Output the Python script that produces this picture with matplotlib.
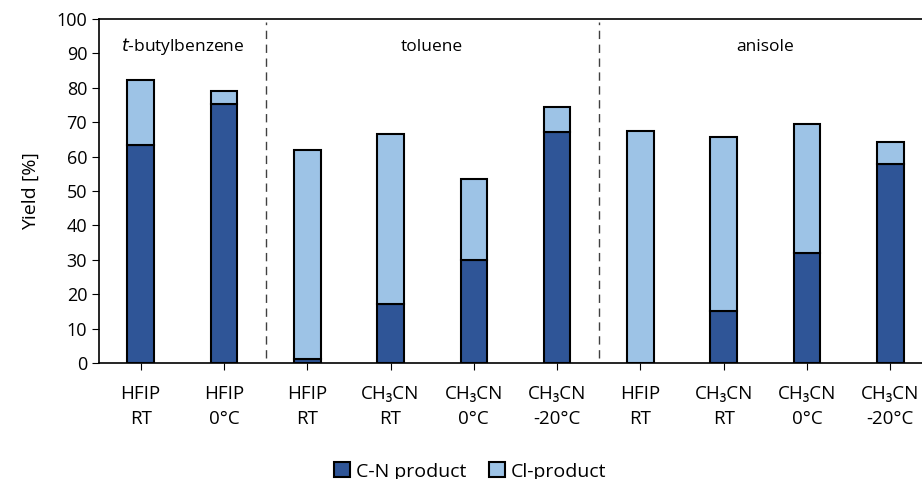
import numpy as np
import matplotlib.pyplot as plt

plt.rcParams['font.family'] = ['Open Sans', 'DejaVu Sans']

# data
labels = ['HFIP\nRT', 'HFIP\n0°C', 'HFIP\nRT', 'CH₃CN\nRT', 'CH₃CN\n0°C',
          'CH₃CN\n-20°C', 'HFIP\nRT', 'CH₃CN\nRT', 'CH₃CN\n0°C', 'CH₃CN\n-20°C']
cn_product = [63.4, 75.4, 1.3, 17.2, 29.9, 67.2, 0.0, 15.1, 31.9, 57.9]
total_yield = [82.2, 79.1, 62.0, 66.6, 53.5, 74.5, 67.5, 65.8, 69.4, 64.2]
cl_product = [t - c for t, c in zip(total_yield, cn_product)]
groups = ['$\\it{t}$-butylbenzene', 'toluene', 'anisole']
group_span = [(0, 1), (2, 5), (6, 9)]

dark = '#2F5597'
light = '#9DC3E6'

fig = plt.figure(figsize=(9.22, 4.79), dpi=100)
ax = fig.add_axes([99/922, 116/479, 833/922, 344/479])

x = np.arange(len(labels))
ax.bar(x, cn_product, width=0.32, color=dark, edgecolor='black', linewidth=1.5,
       label='C-N product', zorder=3)
ax.bar(x, cl_product, width=0.32, bottom=cn_product, color=light, edgecolor='black',
       linewidth=1.5, label='Cl-product', zorder=3)

ax.set_xlim(-0.5, len(labels) - 0.5)
ax.set_ylim(0, 100)
ax.set_yticks(np.arange(0, 101, 10))
ax.set_xticks(x)
ax.set_xticklabels(labels, linespacing=1.5)
ax.tick_params(axis='x', length=5, pad=11, labelsize=13.5)
ax.tick_params(axis='y', length=5, labelsize=13)
ax.set_ylabel('Yield [%]', fontsize=14, labelpad=12)

for s in ['left', 'bottom', 'top']:
    ax.spines[s].set_color('black')
    ax.spines[s].set_linewidth(1.2)

# group separators and names
for (a, b), (c, d) in zip(group_span[:-1], group_span[1:]):
    ax.axvline((b + c) / 2, ymin=0.015, ymax=0.99, color='#404040',
               linestyle=(0, (6, 4)), linewidth=1)
for name, (a, b) in zip(groups, group_span):
    ax.text((a + b) / 2, 92, name, ha='center', va='center', fontsize=12.5)

fig.legend(loc='lower center', bbox_to_anchor=(0.51, -0.04), ncol=2, frameon=False,
           fontsize=14, handlelength=0.8, handleheight=0.8, handletextpad=0.3,
           columnspacing=1.2)

fig.savefig('out.png', dpi=100)
